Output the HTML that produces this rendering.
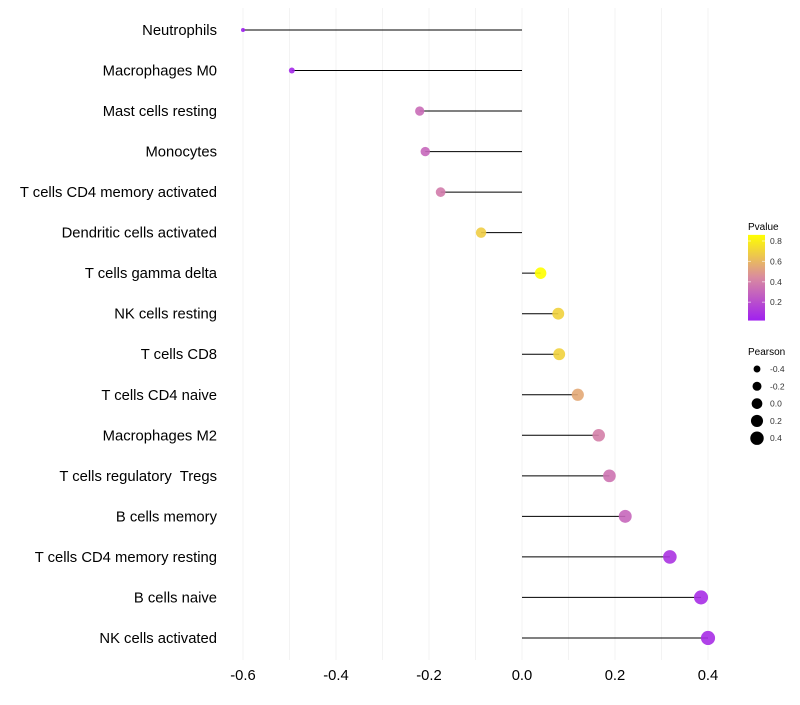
<!DOCTYPE html>
<html><head><meta charset="utf-8"><style>
body{margin:0;background:#fff;font-family:"Liberation Sans",sans-serif}
text{white-space:pre}
</style></head><body>
<svg id="c" width="800" height="700" xmlns="http://www.w3.org/2000/svg">
<defs><linearGradient id="pg" x1="0" y1="1" x2="0" y2="0">
<stop offset="0" stop-color="#a020f0"/><stop offset="0.5" stop-color="#d98aa0"/><stop offset="1" stop-color="#ffff00"/>
</linearGradient></defs>
</svg>
<script>
const categories=["Neutrophils","Macrophages M0","Mast cells resting","Monocytes","T cells CD4 memory activated","Dendritic cells activated","T cells gamma delta","NK cells resting","T cells CD8","T cells CD4 naive","Macrophages M2","T cells regulatory  Tregs","B cells memory","T cells CD4 memory resting","B cells naive","NK cells activated"];
const pearson=[-0.60,-0.495,-0.22,-0.208,-0.175,-0.088,0.04,0.078,0.08,0.12,0.165,0.188,0.222,0.318,0.385,0.40];
const pvalue=[0.02,0.05,0.32,0.3,0.38,0.68,0.86,0.7,0.7,0.55,0.4,0.35,0.3,0.1,0.07,0.07];
const xTicks=[-0.6,-0.4,-0.2,0.0,0.2,0.4];
const pTicks=[0.2,0.4,0.6,0.8];
const sTicks=[-0.4,-0.2,0.0,0.2,0.4];
const NS="http://www.w3.org/2000/svg",svg=document.getElementById('c');
function mk(t,a,p){const e=document.createElementNS(NS,t);for(const k in a)e.setAttribute(k,a[k]);(p||svg).appendChild(e);return e;}
const x=v=>522+v*465;
const y=i=>30+i*40.53;
const rad=v=>Math.sqrt(4+(v+0.6)*46);
const pMin=0.02,pMax=0.86;
function col(p){let t=Math.max(0,Math.min(1,(p-pMin)/(pMax-pMin)));const s=[[160,32,240],[217,138,160],[255,255,0]];let a,b,u;if(t<0.5){a=s[0];b=s[1];u=t/0.5}else{a=s[1];b=s[2];u=(t-0.5)/0.5}return`rgb(${a.map((c,i)=>Math.round(c+(b[i]-c)*u)).join(',')})`;}
for(let v=-0.6;v<=0.41;v+=0.1){const g=mk('line',{x1:x(v),x2:x(v),y1:8,y2:660,stroke:'#f3f3f3','stroke-width':1});

}
xTicks.forEach(v=>{const t=mk('text',{x:x(v),y:680,'text-anchor':'middle','font-size':14.8,fill:'#000'});t.textContent=v.toFixed(1);

});
categories.forEach((c,i)=>{
const t=mk('text',{x:217,y:y(i)+5,'text-anchor':'end','font-size':14.8,fill:'#000'});t.textContent=c;


const l=mk('line',{x1:x(0),x2:x(pearson[i]),y1:y(i),y2:y(i),stroke:'#000','stroke-width':1});


const d=mk('circle',{cx:x(pearson[i]),cy:y(i),r:rad(pearson[i]),fill:col(pvalue[i]),'fill-opacity':0.9});


});
let t=mk('text',{x:748,y:230,'font-size':10});t.textContent='Pvalue';


const py=p=>241+(0.8-p)/0.1*10.2;
const bar=mk('rect',{x:748,y:py(pMax),width:17,height:py(pMin)-py(pMax),fill:'url(#pg)'});


pTicks.forEach(p=>{mk('line',{x1:748,x2:751,y1:py(p),y2:py(p),stroke:'#fff','stroke-opacity':0.6});mk('line',{x1:762,x2:765,y1:py(p),y2:py(p),stroke:'#fff','stroke-opacity':0.6});
const l=mk('text',{x:770,y:py(p)+3,'font-size':8.5,fill:'#333'});l.textContent=p.toFixed(1);

});
t=mk('text',{x:748,y:355,'font-size':10});t.textContent='Pearson';


sTicks.forEach((s,i)=>{const cy=369+i*17.3;
const c=mk('circle',{cx:757,cy:cy,r:rad(s)*0.95,fill:'#000'});


const l=mk('text',{x:770,y:cy+3,'font-size':8.5,fill:'#333'});l.textContent=s.toFixed(1);

});
</script>
</body></html>
